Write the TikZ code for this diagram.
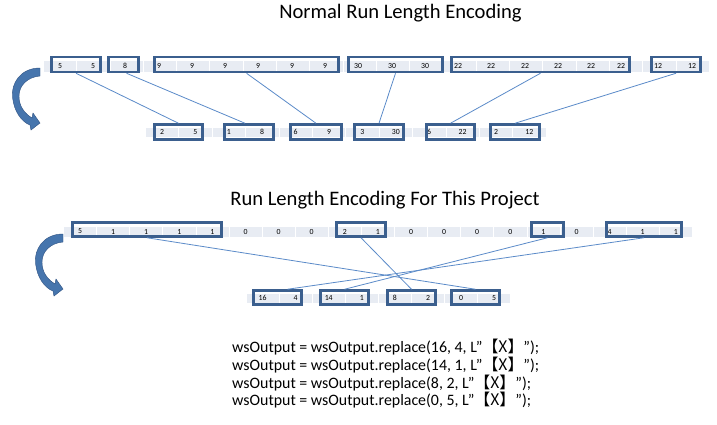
\documentclass[tikz,border=0pt]{standalone}
\usepackage{fontspec}
\setmainfont{Carlito}
\newfontfamily\cjkfont{Noto Sans CJK SC}
\definecolor{boxblue}{HTML}{3B5F8E}
\definecolor{bandgray}{HTML}{E8ECF3}
\definecolor{connblue}{HTML}{5B8BC9}
\definecolor{arrowblue}{HTML}{4675AD}
\definecolor{arrowdark}{HTML}{2F5282}
\tikzset{
  cell/.style={fill=bandgray, draw=white, line width=0.8pt},
  num/.style={font=\fontsize{7.8}{8}\selectfont, inner sep=0pt, anchor=center},
  rlebox/.style={draw=boxblue, line width=2.5pt, minimum height=15pt, inner sep=0pt, anchor=center},
  conn/.style={draw=connblue, line width=0.8pt},
  title/.style={font=\fontsize{20.6}{24}\selectfont, anchor=base, inner sep=0pt},
  code/.style={font=\fontsize{15.9}{18}\selectfont, anchor=base west, inner sep=0pt},
  curarrow/.style={fill=arrowblue, draw=arrowdark, line width=0.4pt}
}
\newcommand{\rleArrow}[1]{%
  \path[curarrow, shift={#1}] (40,68) .. controls (20,68) and (11,84) .. (12.5,97)
    .. controls (14,112) and (22,122) .. (30,125) -- (31,130) -- (40,123) -- (33,113) -- (32,118)
    .. controls (24,113) and (19,106) .. (19,96) .. controls (19,85) and (28,77) .. (40,76) -- cycle;}
\begin{document}
\begin{tikzpicture}[x=1pt,y=-1pt]
\useasboundingbox (0,0) rectangle (717,424);
\fill[white] (0,0) rectangle (717,424);

% ---------- Section 1 ----------
\node[title] (title1) at (400.5,18) {Normal Run Length Encoding};

\foreach \i in {0,...,19} {
  \path[cell] (43.3+33.3*\i,60) rectangle ++(33.3,12);
}
\foreach \v/\x [count=\i from 0] in {5/60,5/93,8/125,9/159,9/192,9/225,9/258,9/292,9/325,30/358,30/392,30/425,22/458,22/491,22/525,22/558,22/591,22/621,12/658,12/692} {
  \node[num] (ta\i) at (\x,66) {\v};
}
\node[rlebox, minimum width=49pt]  (t1) at (76,64.5) {};
\node[rlebox, minimum width=30pt]  (t2) at (123.5,64.5) {};
\node[rlebox, minimum width=184pt] (t3) at (246.5,64.5) {};
\node[rlebox, minimum width=94pt]  (t4) at (395.5,64.5) {};
\node[rlebox, minimum width=178pt] (t5) at (540.5,64.5) {};
\node[rlebox, minimum width=49pt]  (t6) at (676,64.5) {};

\foreach \v [count=\i from 0] in {2,5,1,8,6,9,3,30,6,22,2,12} {
  \path[cell] (145.3+33.4*\i,127) rectangle ++(33.4,10);
  \node[num] (tb\i) at (162+33.4*\i,132) {\v};
}
\node[rlebox, minimum width=48pt] (b1) at (178.5,132) {};
\node[rlebox, minimum width=49pt] (b2) at (249,132) {};
\node[rlebox, minimum width=51pt] (b3) at (316,132) {};
\node[rlebox, minimum width=49pt] (b4) at (379,132) {};
\node[rlebox, minimum width=48pt] (b5) at (450.5,132) {};
\node[rlebox, minimum width=49pt] (b6) at (515,132) {};

\draw[conn] (t1.south) -- (b1.north);
\draw[conn] ([xshift=3pt]t2.south) -- ([xshift=-4pt]b2.north);
\draw[conn] (t3.south) -- (b3.north);
\draw[conn] (t4.south) -- (b4.north);
\draw[conn] (t5.south) -- (b5.north);
\draw[conn] (t6.south) -- (b6.north);

\rleArrow{(0,0)}

% ---------- Section 2 ----------
\node[title] (title2) at (385,205) {Run Length Encoding For This Project};

\foreach \v [count=\i from 0] in {5,1,1,1,1,0,0,0,2,1,0,0,0,0,1,0,4,1,1} {
  \path[cell] (63.5+33.1*\i,226) rectangle ++(33.1,11);
  \node[num] (sa\i) at (80+33.1*\i,231.5) {\v};
}
\node[rlebox, minimum width=149pt, minimum height=14pt] (u1) at (147,229.5) {};
\node[rlebox, minimum width=49pt, minimum height=14pt]  (u2) at (361,229.5) {};
\node[rlebox, minimum width=32pt, minimum height=14pt]  (u3) at (547.5,229.5) {};
\node[rlebox, minimum width=75pt, minimum height=14pt]  (u4) at (644,229.5) {};

\foreach \v [count=\i from 0] in {16,4,14,1,8,2,0,5} {
  \path[cell] (246+33.1*\i,293) rectangle ++(33.1,10);
  \node[num] (sb\i) at (262.5+33.1*\i,298) {\v};
}
\node[rlebox, minimum width=48pt, minimum height=14pt] (v1) at (277.5,297.5) {};
\node[rlebox, minimum width=48pt, minimum height=14pt] (v2) at (344.5,297.5) {};
\node[rlebox, minimum width=48pt, minimum height=14pt] (v3) at (411.5,297.5) {};
\node[rlebox, minimum width=48pt, minimum height=14pt] (v4) at (475.5,297.5) {};

\draw[conn] (u1.south) -- (v4.north);
\draw[conn] (u2.south) -- (v3.north);
\draw[conn] (u3.south) -- (v2.north);
\draw[conn] (u4.south) -- ([xshift=10pt]v1.north);

\rleArrow{(23,166)}

% ---------- Code ----------
\node[code] (c1) at (232,352) {wsOutput = wsOutput.replace(16, 4, L”{\cjkfont 【X】}”);};
\node[code] (c2) at (232,370) {wsOutput = wsOutput.replace(14, 1, L”{\cjkfont 【X】}”);};
\node[code] (c3) at (232,388) {wsOutput = wsOutput.replace(8, 2, L”{\cjkfont 【X】}”);};
\node[code] (c4) at (232,405.5) {wsOutput = wsOutput.replace(0, 5, L”{\cjkfont 【X】}”);};
\end{tikzpicture}
\end{document}
